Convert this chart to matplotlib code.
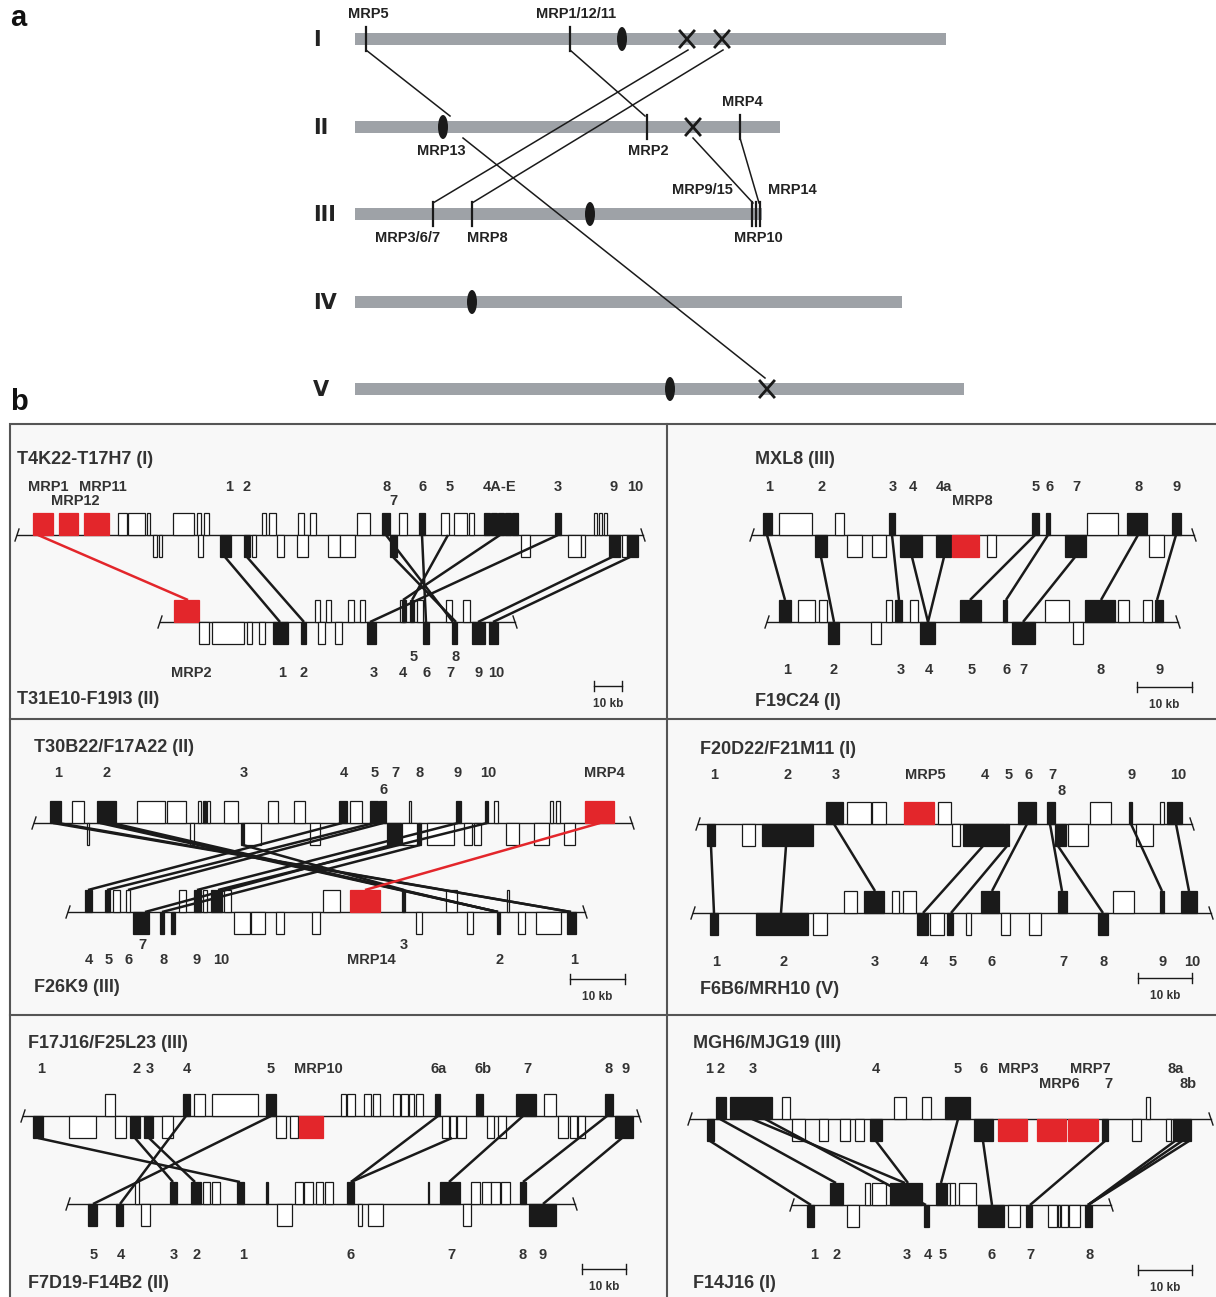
import matplotlib
matplotlib.use('Agg')
import matplotlib.pyplot as plt
import matplotlib.patches as mpatches

# ---------------- part a: chromosome map ----------------
chrom_names = ['I', 'II', 'III', 'IV', 'V']
chrom_y = [39, 127, 214, 302, 389]
chrom_start = 355
chrom_end = [946, 780, 762, 902, 964]
centromere_x = [622, 443, 590, 472, 670]

# (chromosome index, x) of MRP loci and of lost copies (crosses)
mrp_ticks = [(0, 366), (0, 570), (1, 647), (1, 740), (2, 433), (2, 472),
             (2, 752), (2, 756), (2, 760)]
lost_copies = [(0, 687), (0, 722), (1, 693), (4, 767)]
# duplication links: (chrom a, x a, chrom b, x b)
dup_links = [(0, 366, 1, 450), (1, 463, 4, 765), (0, 570, 1, 645),
             (0, 688, 2, 433), (0, 723, 2, 472), (1, 693, 2, 753),
             (1, 740, 2, 759)]
mrp_labels = [('MRP5', 368, 14), ('MRP1/12/11', 576, 14), ('MRP4', 742, 102),
              ('MRP13', 441, 151), ('MRP2', 648, 151), ('MRP9/15', 702, 190),
              ('MRP14', 792, 190), ('MRP3/6/7', 408, 238), ('MRP8', 487, 238),
              ('MRP10', 758, 238)]

# ---------------- part b: syntenic blocks ----------------
# genes: (start, end, strand u/d, kind f=filled o=open r=MRP)
# panel 1  T4K22-T17H7 (I) vs T31E10-F19I3 (II)
p1_tracks = [(17, 643, 535), (160, 515, 622)]
p1_top = [(33, 53, 'u', 'r'), (59, 78, 'u', 'r'), (84, 109, 'u', 'r'),
          (118, 127, 'u', 'o'), (128, 145, 'u', 'o'), (147, 150, 'u', 'o'),
          (173, 194, 'u', 'o'), (197, 201, 'u', 'o'), (204, 209, 'u', 'o'),
          (262, 266, 'u', 'o'), (269, 276, 'u', 'o'), (298, 304, 'u', 'o'),
          (310, 316, 'u', 'o'), (357, 370, 'u', 'o'), (382, 390, 'u', 'f'),
          (399, 407, 'u', 'o'), (419, 425, 'u', 'f'), (441, 449, 'u', 'o'),
          (454, 467, 'u', 'o'), (469, 474, 'u', 'o'), (484, 490, 'u', 'f'),
          (491, 497, 'u', 'f'), (498, 504, 'u', 'f'), (505, 511, 'u', 'f'),
          (512, 518, 'u', 'f'), (555, 561, 'u', 'f'), (594, 597, 'u', 'o'),
          (599, 602, 'u', 'o'), (604, 607, 'u', 'o'),
          (153, 157, 'd', 'o'), (159, 162, 'd', 'o'), (198, 203, 'd', 'o'),
          (220, 231, 'd', 'f'), (244, 250, 'd', 'f'), (252, 256, 'd', 'o'),
          (277, 284, 'd', 'o'), (297, 308, 'd', 'o'), (328, 340, 'd', 'o'),
          (340, 355, 'd', 'o'), (390, 397, 'd', 'f'), (521, 530, 'd', 'o'),
          (568, 581, 'd', 'o'), (581, 585, 'd', 'o'), (609, 620, 'd', 'f'),
          (622, 627, 'd', 'o'), (627, 638, 'd', 'f')]
p1_bot = [(174, 199, 'u', 'r'), (315, 320, 'u', 'o'), (326, 331, 'u', 'o'),
          (348, 354, 'u', 'o'), (360, 365, 'u', 'o'), (400, 406, 'u', 'o'),
          (402, 405, 'u', 'f'), (410, 414, 'u', 'f'), (417, 423, 'u', 'o'),
          (446, 452, 'u', 'o'), (463, 470, 'u', 'o'),
          (199, 209, 'd', 'o'), (212, 244, 'd', 'o'), (247, 252, 'd', 'o'),
          (259, 265, 'd', 'o'), (273, 288, 'd', 'f'), (301, 306, 'd', 'f'),
          (318, 325, 'd', 'o'), (335, 342, 'd', 'o'), (367, 376, 'd', 'f'),
          (423, 429, 'd', 'f'), (452, 457, 'd', 'f'), (472, 485, 'd', 'f'),
          (489, 498, 'd', 'f')]
p1_links = [(38, 188, 'r'), (225, 280, 'k'), (247, 304, 'k'), (386, 453, 'k'),
            (393, 456, 'k'), (422, 426, 'k'), (448, 412, 'k'), (500, 403, 'k'),
            (558, 370, 'k'), (612, 478, 'k'), (630, 493, 'k')]
p1_labels = [('MRP1', 48, 487), ('MRP11', 103, 487), ('MRP12', 75, 501),
             ('1', 229, 487), ('2', 247, 487), ('8', 387, 487), ('7', 393, 501),
             ('6', 423, 487), ('5', 450, 487), ('4A-E', 500, 487), ('3', 558, 487),
             ('9', 614, 487), ('10', 635, 487),
             ('MRP2', 191, 673), ('1', 282, 673), ('2', 304, 673), ('3', 374, 673),
             ('4', 403, 673), ('5', 414, 657), ('6', 427, 673), ('7', 450, 673),
             ('8', 456, 657), ('9', 479, 673), ('10', 496, 673)]
p1_titles = [('T4K22-T17H7 (I)', 17, 460), ('T31E10-F19I3 (II)', 17, 700)]
p1_scale = (594, 622, 686)

# panel 2  MXL8 (III) vs F19C24 (I)
p2_tracks = [(752, 1194, 535), (767, 1178, 622)]
p2_top = [(763, 772, 'u', 'f'), (779, 812, 'u', 'o'), (835, 844, 'u', 'o'),
          (889, 895, 'u', 'f'), (1032, 1039, 'u', 'f'), (1046, 1050, 'u', 'f'),
          (1087, 1118, 'u', 'o'), (1127, 1147, 'u', 'f'), (1172, 1181, 'u', 'f'),
          (815, 827, 'd', 'f'), (847, 862, 'd', 'o'), (872, 886, 'd', 'o'),
          (900, 922, 'd', 'f'), (936, 951, 'd', 'f'), (952, 979, 'd', 'r'),
          (987, 996, 'd', 'o'), (1065, 1086, 'd', 'f'), (1149, 1164, 'd', 'o')]
p2_bot = [(779, 791, 'u', 'f'), (798, 815, 'u', 'o'), (819, 827, 'u', 'o'),
          (886, 892, 'u', 'o'), (895, 902, 'u', 'f'), (910, 918, 'u', 'o'),
          (960, 981, 'u', 'f'), (1003, 1007, 'u', 'f'), (1045, 1069, 'u', 'o'),
          (1085, 1115, 'u', 'f'), (1118, 1129, 'u', 'o'), (1143, 1152, 'u', 'o'),
          (1155, 1163, 'u', 'f'),
          (828, 839, 'd', 'f'), (871, 881, 'd', 'o'), (920, 935, 'd', 'f'),
          (1012, 1035, 'd', 'f'), (1073, 1083, 'd', 'o')]
p2_links = [(767, 785, 'k'), (821, 834, 'k'), (892, 899, 'k'), (912, 928, 'k'),
            (944, 928, 'k'), (1035, 970, 'k'), (1048, 1006, 'k'), (1075, 1023, 'k'),
            (1138, 1101, 'k'), (1176, 1157, 'k')]
p2_labels = [('1', 769, 487), ('2', 822, 487), ('3', 893, 487), ('4', 913, 487),
             ('4a', 944, 487), ('MRP8', 972, 501), ('5', 1036, 487), ('6', 1050, 487),
             ('7', 1076, 487), ('8', 1139, 487), ('9', 1177, 487),
             ('1', 787, 670), ('2', 834, 670), ('3', 901, 670), ('4', 929, 670),
             ('5', 972, 670), ('6', 1007, 670), ('7', 1023, 670), ('8', 1101, 670),
             ('9', 1160, 670)]
p2_titles = [('MXL8 (III)', 755, 460), ('F19C24 (I)', 755, 701)]
p2_scale = (1137, 1192, 687)

# panel 3  T30B22/F17A22 (II) vs F26K9 (III)
p3_tracks = [(34, 632, 823), (68, 585, 912)]
p3_top = [(50, 61, 'u', 'f'), (72, 84, 'u', 'o'), (97, 116, 'u', 'f'),
          (137, 165, 'u', 'o'), (167, 186, 'u', 'o'), (198, 201, 'u', 'o'),
          (203, 206, 'u', 'f'), (207, 210, 'u', 'o'), (224, 238, 'u', 'o'),
          (268, 278, 'u', 'o'), (294, 305, 'u', 'o'), (339, 347, 'u', 'f'),
          (350, 362, 'u', 'o'), (370, 378, 'u', 'f'), (379, 386, 'u', 'f'),
          (409, 411, 'u', 'o'), (456, 461, 'u', 'f'), (485, 488, 'u', 'f'),
          (494, 498, 'u', 'o'), (550, 553, 'u', 'o'), (556, 560, 'u', 'o'),
          (585, 614, 'u', 'r'),
          (87, 89, 'd', 'o'), (190, 194, 'd', 'o'), (241, 244, 'd', 'f'),
          (244, 261, 'd', 'o'), (310, 320, 'd', 'o'), (387, 401, 'd', 'f'),
          (402, 417, 'd', 'o'), (418, 421, 'd', 'f'), (427, 454, 'd', 'o'),
          (464, 472, 'd', 'o'), (474, 481, 'd', 'o'), (506, 519, 'd', 'o'),
          (534, 549, 'd', 'o'), (564, 575, 'd', 'o')]
p3_bot = [(85, 92, 'u', 'f'), (105, 110, 'u', 'f'), (113, 120, 'u', 'o'),
          (126, 130, 'u', 'o'), (179, 186, 'u', 'o'), (194, 201, 'u', 'f'),
          (203, 207, 'u', 'o'), (211, 222, 'u', 'f'), (224, 231, 'u', 'o'),
          (323, 340, 'u', 'o'), (350, 380, 'u', 'r'), (402, 405, 'u', 'f'),
          (446, 457, 'u', 'o'), (507, 509, 'u', 'o'),
          (133, 149, 'd', 'f'), (160, 164, 'd', 'f'), (171, 175, 'd', 'f'),
          (234, 250, 'd', 'o'), (251, 265, 'd', 'o'), (276, 284, 'd', 'o'),
          (312, 320, 'd', 'o'), (416, 422, 'd', 'o'), (467, 473, 'd', 'o'),
          (497, 500, 'd', 'f'), (518, 525, 'd', 'o'), (536, 561, 'd', 'o'),
          (567, 576, 'd', 'f')]
p3_links = [(53, 571, 'k'), (58, 571, 'k'), (100, 498, 'k'), (106, 498, 'k'),
            (112, 498, 'k'), (243, 404, 'k'), (342, 88, 'k'), (374, 107, 'k'),
            (383, 128, 'k'), (392, 145, 'k'), (420, 162, 'k'), (458, 197, 'k'),
            (487, 218, 'k'), (600, 365, 'r')]
p3_labels = [('1', 58, 773), ('2', 107, 773), ('3', 244, 773), ('4', 344, 773),
             ('5', 375, 773), ('6', 384, 790), ('7', 395, 773), ('8', 420, 773),
             ('9', 458, 773), ('10', 488, 773), ('MRP4', 604, 773),
             ('4', 89, 960), ('5', 109, 960), ('6', 129, 960), ('7', 142, 945),
             ('8', 164, 960), ('9', 197, 960), ('10', 221, 960), ('MRP14', 371, 960),
             ('3', 404, 945), ('2', 500, 960), ('1', 574, 960)]
p3_titles = [('T30B22/F17A22 (II)', 34, 747), ('F26K9 (III)', 34, 988)]
p3_scale = (570, 625, 979)

# panel 4  F20D22/F21M11 (I) vs F6B6/MRH10 (V)
p4_tracks = [(698, 1192, 824), (693, 1211, 913)]
p4_top = [(826, 843, 'u', 'f'), (847, 871, 'u', 'o'), (872, 886, 'u', 'o'),
          (904, 934, 'u', 'r'), (938, 951, 'u', 'o'), (1018, 1036, 'u', 'f'),
          (1047, 1055, 'u', 'f'), (1090, 1111, 'u', 'o'), (1129, 1132, 'u', 'f'),
          (1160, 1164, 'u', 'o'), (1167, 1182, 'u', 'f'),
          (707, 715, 'd', 'f'), (742, 755, 'd', 'o'), (762, 813, 'd', 'f'),
          (952, 960, 'd', 'o'), (963, 1004, 'd', 'f'), (1005, 1009, 'd', 'f'),
          (1055, 1066, 'd', 'f'), (1068, 1088, 'd', 'o'), (1136, 1153, 'd', 'o')]
p4_bot = [(844, 857, 'u', 'o'), (864, 884, 'u', 'f'), (892, 899, 'u', 'o'),
          (903, 916, 'u', 'o'), (981, 999, 'u', 'f'), (1058, 1067, 'u', 'f'),
          (1113, 1134, 'u', 'o'), (1160, 1164, 'u', 'f'), (1181, 1197, 'u', 'f'),
          (710, 718, 'd', 'f'), (756, 808, 'd', 'f'), (813, 827, 'd', 'o'),
          (917, 928, 'd', 'f'), (930, 944, 'd', 'o'), (947, 953, 'd', 'f'),
          (966, 971, 'd', 'o'), (1001, 1010, 'd', 'o'), (1029, 1041, 'd', 'o'),
          (1098, 1108, 'd', 'f')]
p4_links = [(711, 714, 'k'), (786, 781, 'k'), (834, 875, 'k'), (983, 923, 'k'),
            (1007, 951, 'k'), (1027, 992, 'k'), (1050, 1062, 'k'), (1058, 1103, 'k'),
            (1131, 1162, 'k'), (1176, 1189, 'k')]
p4_labels = [('1', 714, 775), ('2', 788, 775), ('3', 836, 775), ('MRP5', 925, 775),
             ('4', 985, 775), ('5', 1009, 775), ('6', 1029, 775), ('7', 1052, 775),
             ('8', 1062, 791), ('9', 1132, 775), ('10', 1178, 775),
             ('1', 716, 962), ('2', 784, 962), ('3', 875, 962), ('4', 924, 962),
             ('5', 953, 962), ('6', 992, 962), ('7', 1063, 962), ('8', 1104, 962),
             ('9', 1163, 962), ('10', 1192, 962)]
p4_titles = [('F20D22/F21M11 (I)', 700, 750), ('F6B6/MRH10 (V)', 700, 990)]
p4_scale = (1138, 1192, 978)

# panel 5  F17J16/F25L23 (III) vs F7D19-F14B2 (II)
p5_tracks = [(23, 639, 1116), (68, 575, 1204)]
p5_top = [(105, 115, 'u', 'o'), (183, 190, 'u', 'f'), (194, 205, 'u', 'o'),
          (212, 258, 'u', 'o'), (266, 276, 'u', 'f'), (341, 346, 'u', 'o'),
          (347, 355, 'u', 'o'), (364, 371, 'u', 'o'), (373, 380, 'u', 'o'),
          (393, 400, 'u', 'o'), (401, 408, 'u', 'o'), (409, 414, 'u', 'o'),
          (416, 423, 'u', 'o'), (435, 440, 'u', 'f'), (476, 483, 'u', 'f'),
          (516, 536, 'u', 'f'), (544, 556, 'u', 'o'), (605, 613, 'u', 'f'),
          (33, 43, 'd', 'f'), (69, 96, 'd', 'o'), (115, 126, 'd', 'o'),
          (130, 140, 'd', 'f'), (144, 153, 'd', 'f'), (162, 173, 'd', 'o'),
          (276, 286, 'd', 'o'), (290, 298, 'd', 'o'), (299, 323, 'd', 'r'),
          (442, 449, 'd', 'o'), (450, 456, 'd', 'o'), (457, 466, 'd', 'o'),
          (487, 494, 'd', 'o'), (498, 506, 'd', 'o'), (558, 568, 'd', 'o'),
          (570, 577, 'd', 'o'), (578, 585, 'd', 'o'), (615, 633, 'd', 'f')]
p5_bot = [(135, 139, 'u', 'o'), (170, 177, 'u', 'f'), (191, 201, 'u', 'f'),
          (203, 210, 'u', 'o'), (212, 220, 'u', 'o'), (237, 244, 'u', 'f'),
          (266, 268, 'u', 'f'), (295, 303, 'u', 'o'), (304, 313, 'u', 'o'),
          (316, 323, 'u', 'o'), (325, 333, 'u', 'o'), (347, 354, 'u', 'f'),
          (428, 429, 'u', 'f'), (440, 460, 'u', 'f'), (471, 480, 'u', 'o'),
          (482, 491, 'u', 'o'), (491, 500, 'u', 'o'), (501, 510, 'u', 'o'),
          (520, 526, 'u', 'f'),
          (88, 97, 'd', 'f'), (116, 123, 'd', 'f'), (141, 150, 'd', 'o'),
          (277, 292, 'd', 'o'), (358, 362, 'd', 'o'), (368, 383, 'd', 'o'),
          (463, 471, 'd', 'o'), (529, 556, 'd', 'f')]
p5_links = [(38, 240, 'k'), (135, 173, 'k'), (149, 195, 'k'), (186, 120, 'k'),
            (271, 93, 'k'), (438, 351, 'k'), (452, 351, 'k'), (523, 449, 'k'),
            (607, 523, 'k'), (622, 543, 'k')]
p5_labels = [('1', 41, 1069), ('2', 137, 1069), ('3', 150, 1069), ('4', 187, 1069),
             ('5', 271, 1069), ('MRP10', 318, 1069), ('6a', 439, 1069),
             ('6b', 483, 1069), ('7', 527, 1069), ('8', 609, 1069), ('9', 626, 1069),
             ('5', 94, 1255), ('4', 121, 1255), ('3', 174, 1255), ('2', 197, 1255),
             ('1', 243, 1255), ('6', 351, 1255), ('7', 451, 1255), ('8', 523, 1255),
             ('9', 543, 1255)]
p5_titles = [('F17J16/F25L23 (III)', 28, 1043), ('F7D19-F14B2 (II)', 28, 1284)]
p5_scale = (582, 626, 1269)

# panel 6  MGH6/MJG19 (III) vs F14J16 (I)
p6_tracks = [(690, 1211, 1119), (792, 1111, 1205)]
p6_top = [(716, 726, 'u', 'f'), (730, 772, 'u', 'f'), (782, 790, 'u', 'o'),
          (894, 906, 'u', 'o'), (922, 931, 'u', 'o'), (945, 970, 'u', 'f'),
          (1146, 1150, 'u', 'o'),
          (707, 714, 'd', 'f'), (792, 805, 'd', 'o'), (819, 828, 'd', 'o'),
          (840, 850, 'd', 'o'), (855, 864, 'd', 'o'), (870, 882, 'd', 'f'),
          (974, 993, 'd', 'f'), (998, 1027, 'd', 'r'), (1037, 1066, 'd', 'r'),
          (1068, 1098, 'd', 'r'), (1102, 1108, 'd', 'f'), (1132, 1141, 'd', 'o'),
          (1166, 1171, 'd', 'o'), (1173, 1182, 'd', 'f'), (1182, 1191, 'd', 'f')]
p6_bot = [(830, 843, 'u', 'f'), (865, 870, 'u', 'o'), (872, 886, 'u', 'o'),
          (890, 922, 'u', 'f'), (936, 946, 'u', 'f'), (947, 950, 'u', 'o'),
          (950, 955, 'u', 'o'), (959, 976, 'u', 'o'),
          (807, 814, 'd', 'f'), (847, 859, 'd', 'o'), (924, 929, 'd', 'f'),
          (978, 1004, 'd', 'f'), (1008, 1020, 'd', 'o'), (1026, 1032, 'd', 'f'),
          (1048, 1057, 'd', 'o'), (1058, 1060, 'd', 'o'), (1061, 1068, 'd', 'o'),
          (1069, 1080, 'd', 'o'), (1085, 1092, 'd', 'f')]
p6_links = [(710, 811, 'k'), (720, 836, 'k'), (752, 905, 'k'), (765, 926, 'k'),
            (876, 908, 'k'), (958, 941, 'k'), (983, 992, 'k'), (1105, 1030, 'k'),
            (1175, 1088, 'k'), (1182, 1088, 'k'), (1189, 1088, 'k')]
p6_labels = [('1', 709, 1069), ('2', 721, 1069), ('3', 753, 1069), ('4', 876, 1069),
             ('5', 958, 1069), ('6', 984, 1069), ('MRP3', 1018, 1069),
             ('MRP7', 1090, 1069), ('8a', 1176, 1069), ('MRP6', 1059, 1084),
             ('7', 1108, 1084), ('8b', 1188, 1084),
             ('1', 814, 1255), ('2', 837, 1255), ('3', 907, 1255), ('4', 928, 1255),
             ('5', 943, 1255), ('6', 992, 1255), ('7', 1030, 1255), ('8', 1090, 1255)]
p6_titles = [('MGH6/MJG19 (III)', 693, 1043), ('F14J16 (I)', 693, 1284)]
p6_scale = (1138, 1192, 1270)

RED = '#e3262b'
INK = '#1a1a1a'
TXT = '#333333'
GREY = '#9ea2a7'
H = 22
SANS = ['Liberation Sans', 'DejaVu Sans']


def side_of(genes, x):
    for g in genes:
        if g[0] <= x <= g[1]:
            return g[2]
    return None


def draw_track(ax, track, genes):
    x0, x1, y = track
    ax.plot([x0, x1], [y, y], color=INK, lw=1.0, zorder=2)
    ax.plot([x0 - 2, x0 + 2], [y + 6, y - 6], color=INK, lw=1.0, zorder=2)
    ax.plot([x1 - 2, x1 + 2], [y - 6, y + 6], color=INK, lw=1.0, zorder=2)
    for s, e, strand, kind in genes:
        yb = y - H if strand == 'u' else y
        if kind == 'r':
            fc, ec = RED, RED
        elif kind == 'f':
            fc, ec = INK, INK
        else:
            fc, ec = 'white', INK
        ax.add_patch(mpatches.Rectangle((s, yb), e - s, H, facecolor=fc,
                                        edgecolor=ec, lw=0.9, zorder=3))


def draw_panel(ax, tracks, top, bot, links, labels, titles, scale):
    draw_track(ax, tracks[0], top)
    draw_track(ax, tracks[1], bot)
    yt, yb = tracks[0][2], tracks[1][2]
    for xt, xb, c in links:
        y0 = yt + H if side_of(top, xt) == 'd' else yt
        y1 = yb - H if side_of(bot, xb) == 'u' else yb
        ax.plot([xt, xb], [y0, y1], color=RED if c == 'r' else INK,
                lw=1.8, zorder=4, solid_capstyle='butt')
    for txt, x, y in labels:
        ax.text(x, y, txt, ha='center', va='center', fontsize=10.5,
                fontweight='bold', color=TXT, family=SANS, zorder=5)
    for txt, x, y in titles:
        ax.text(x, y, txt, ha='left', va='center', fontsize=13,
                fontweight='bold', color=TXT, family=SANS, zorder=5)
    sx0, sx1, sy = scale
    ax.plot([sx0, sx1], [sy, sy], color=INK, lw=1.0)
    ax.plot([sx0, sx0], [sy - 5, sy + 5], color=INK, lw=1.0)
    ax.plot([sx1, sx1], [sy - 5, sy + 5], color=INK, lw=1.0)
    ax.text((sx0 + sx1) / 2, sy + 18, '10 kb', ha='center', va='center',
            fontsize=8.5, fontweight='bold', color=TXT, family=SANS)


fig = plt.figure(figsize=(12.16, 12.97), dpi=100)
ax = fig.add_axes([0, 0, 1, 1])
ax.set_xlim(0, 1216)
ax.set_ylim(1297, 0)
ax.axis('off')

# panel letters
ax.text(10, 18, 'a', fontsize=21, fontweight='bold', va='center', ha='left',
        family=SANS, color='#111111')
ax.text(10, 402, 'b', fontsize=21, fontweight='bold', va='center', ha='left',
        family=SANS, color='#111111')

# ---- part a
for i, name in enumerate(chrom_names):
    y = chrom_y[i]
    ax.add_patch(mpatches.Rectangle((chrom_start, y - 6), chrom_end[i] - chrom_start,
                                    12, facecolor=GREY, edgecolor='none', zorder=1))
    ax.add_patch(mpatches.Ellipse((centromere_x[i], y), 10, 24, facecolor=INK,
                                  edgecolor='none', zorder=3))
    ax.text(313, y + 1, name, ha='left', va='center', fontsize=15,
            fontweight='bold', color='#222222', family=['DejaVu Sans'])
for c, x in mrp_ticks:
    y = chrom_y[c]
    ax.plot([x, x], [y - 12, y + 12], color=INK, lw=1.6, zorder=3)
for c, x in lost_copies:
    y = chrom_y[c]
    ax.plot([x - 7, x + 7], [y - 8, y + 8], color=INK, lw=2.0, zorder=3)
    ax.plot([x - 7, x + 7], [y + 8, y - 8], color=INK, lw=2.0, zorder=3)
for ca, xa, cb, xb in dup_links:
    ax.plot([xa, xb], [chrom_y[ca] + 11, chrom_y[cb] - 11], color=INK, lw=1.1,
            zorder=2)
for txt, x, y in mrp_labels:
    ax.text(x, y, txt, ha='center', va='center', fontsize=10.5, fontweight='bold',
            color='#222222', family=SANS)

# ---- part b frame
ax.add_patch(mpatches.Rectangle((10, 424), 1220, 880, facecolor='#f8f8f8',
                                edgecolor='#555555', lw=1.5, zorder=0))
ax.plot([667, 667], [424, 1297], color='#555555', lw=1.5, zorder=0.5)
ax.plot([10, 1216], [719, 719], color='#555555', lw=1.5, zorder=0.5)
ax.plot([10, 1216], [1015, 1015], color='#555555', lw=1.5, zorder=0.5)

draw_panel(ax, p1_tracks, p1_top, p1_bot, p1_links, p1_labels, p1_titles, p1_scale)
draw_panel(ax, p2_tracks, p2_top, p2_bot, p2_links, p2_labels, p2_titles, p2_scale)
draw_panel(ax, p3_tracks, p3_top, p3_bot, p3_links, p3_labels, p3_titles, p3_scale)
draw_panel(ax, p4_tracks, p4_top, p4_bot, p4_links, p4_labels, p4_titles, p4_scale)
draw_panel(ax, p5_tracks, p5_top, p5_bot, p5_links, p5_labels, p5_titles, p5_scale)
draw_panel(ax, p6_tracks, p6_top, p6_bot, p6_links, p6_labels, p6_titles, p6_scale)

fig.savefig('out.png', dpi=100, facecolor='white')
